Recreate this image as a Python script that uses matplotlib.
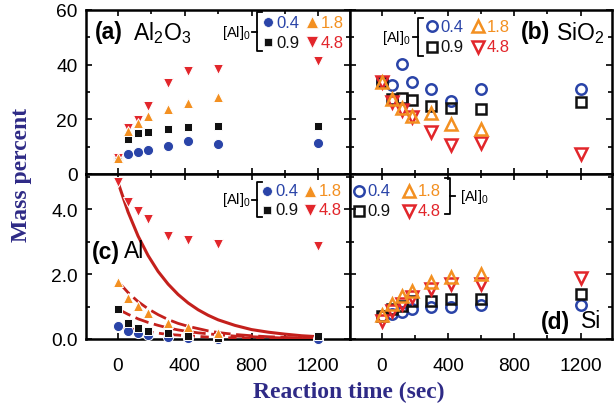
import matplotlib
matplotlib.use("Agg")
import matplotlib.pyplot as plt
from matplotlib.ticker import MultipleLocator, FixedLocator, FixedFormatter

plt.rcParams["font.family"] = ["Liberation Sans", "DejaVu Sans"]
plt.rcParams["mathtext.fontset"] = "custom"
plt.rcParams["mathtext.rm"] = "Liberation Sans"

# --- data (mass percent vs reaction time, sec) ---
times = [0, 60, 120, 180, 300, 420, 600, 1200]
times_18 = [0, 60, 120, 180, 300, 420, 600]   # [Al]0 = 1.8 stops at 600 s

al2o3_04 = [6.0, 7.3, 8.0, 8.7, 10.4, 12.2, 10.9, 11.2]
al2o3_09 = [6.0, 12.8, 14.9, 15.3, 16.4, 17.3, 17.6, 17.7]
al2o3_18 = [5.8, 15.9, 18.5, 21.2, 23.6, 26.1, 28.3]
al2o3_48 = [5.8, 16.9, 19.8, 25.0, 33.3, 37.6, 38.5, 41.3]

sio2_04 = [33.7, 32.7, 40.1, 33.7, 31.0, 26.7, 31.0, 31.0]
sio2_09 = [33.7, 27.6, 27.9, 27.0, 25.0, 24.2, 23.8, 26.2]
sio2_18 = [33.7, 27.4, 24.2, 21.3, 22.2, 18.2, 16.4]
sio2_48 = [33.7, 26.4, 23.4, 21.0, 15.5, 10.7, 11.3, 7.3]

al_04 = [0.41, 0.26, 0.19, 0.12, 0.05, 0.02, 0.0, 0.0]
al_09 = [0.92, 0.48, 0.34, 0.26, 0.20, 0.10, 0.02, 0.08]
al_18 = [1.77, 1.25, 1.03, 0.80, 0.49, 0.36, 0.18]
al_48 = [4.82, 4.23, 3.95, 3.69, 3.18, 3.05, 2.92, 2.87]

si_04 = [0.70, 0.77, 0.82, 0.92, 0.97, 1.00, 1.05, 1.05]
si_09 = [0.72, 0.92, 1.03, 1.18, 1.18, 1.23, 1.23, 1.38]
si_18 = [0.74, 1.08, 1.31, 1.49, 1.74, 1.90, 2.00]
si_48 = [0.56, 0.87, 1.08, 1.28, 1.54, 1.69, 1.69, 1.87]

# fitted decay curves for panel (c)
fit_t = [0, 60, 120, 180, 240, 300, 360, 420, 480, 540, 600, 700, 800, 900, 1000, 1100, 1200]
fit_48 = [4.82, 3.91, 3.17, 2.57, 2.08, 1.69, 1.37, 1.11, 0.90, 0.73, 0.59, 0.42, 0.29, 0.21, 0.15, 0.10, 0.07]
fit_18 = [1.77, 1.43, 1.15, 0.93, 0.75, 0.60, 0.48, 0.39, 0.32, 0.25, 0.20, 0.14, 0.10, 0.07, 0.05, 0.03, 0.02]
fit_09 = [0.92, 0.76, 0.62, 0.51, 0.42, 0.34, 0.28, 0.23, 0.19, 0.16, 0.13, 0.09, 0.07, 0.05, 0.03, 0.02, 0.02]
fit_04 = [0.41, 0.33, 0.27, 0.22, 0.18, 0.14, 0.12, 0.09, 0.08, 0.06, 0.05, 0.03, 0.02, 0.02, 0.01, 0.01, 0.00]

BLUE = "#2a44a8"
ORANGE = "#f39021"
RED = "#e2262b"
BLACK = "#111111"
FIT = "#c4201c"
LABEL = "#2e2a86"

W, H = 615, 406
fig = plt.figure(figsize=(W / 100, H / 100), dpi=100)


def fx(px):
    return px / W


def fy(py):
    return 1 - py / H


def add_panel(l, t, r, b):
    return fig.add_axes([fx(l), fy(b), (r - l) / W, (b - t) / H])


ax_a = add_panel(86, 11, 350, 175)
ax_b = add_panel(350, 11, 612, 175)
ax_c = add_panel(86, 175, 350, 340)
ax_d = add_panel(350, 175, 612, 340)

for ax in (ax_a, ax_b, ax_c, ax_d):
    ax.set_xlim(-192, 1390)
    ax.xaxis.set_major_locator(FixedLocator([0, 400, 800, 1200]))
    ax.xaxis.set_minor_locator(MultipleLocator(200))
    ax.tick_params(which="both", direction="in", top=True, right=True,
                   width=1.2, labelsize=13.8)
    ax.tick_params(which="major", length=4.5)
    ax.tick_params(which="minor", length=3)
    ax.tick_params(axis="x", pad=13)
    ax.tick_params(axis="y", pad=6)
    for s in ax.spines.values():
        s.set_linewidth(1.8)

for ax in (ax_a, ax_b):
    ax.set_ylim(0, 60)
    ax.yaxis.set_major_locator(MultipleLocator(20))
    ax.yaxis.set_minor_locator(MultipleLocator(10))
    ax.tick_params(axis="x", labelbottom=False)
for ax in (ax_c, ax_d):
    ax.set_ylim(0, 5.08)
    ax.yaxis.set_major_locator(FixedLocator([0, 2, 4]))
    ax.yaxis.set_minor_locator(FixedLocator([1, 3, 5]))
ax_c.yaxis.set_major_formatter(FixedFormatter(["0.0", "2.0", "4.0"]))
ax_b.tick_params(axis="y", labelleft=False)
ax_d.tick_params(axis="y", labelleft=False)

# filled markers (a, c)
def filled(ax, y04, y09, y18, y48):
    kw = dict(linestyle="", markeredgecolor="white", markeredgewidth=0.7, clip_on=False, zorder=4)
    ax.plot(times, y04, "o", color=BLUE, ms=7.3, **kw)
    ax.plot(times, y09, "s", color=BLACK, ms=6.4, **kw)
    ax.plot(times, y48, "v", color=RED, ms=7.8, **kw)
    ax.plot(times_18, y18, "^", color=ORANGE, ms=7.8, **kw)


def hollow(ax, y04, y09, y18, y48):
    kw = dict(linestyle="", markerfacecolor="none", markeredgewidth=1.8, clip_on=False, zorder=4)
    ax.plot(times, y04, "o", markeredgecolor=BLUE, ms=7.5, **kw)
    ax.plot(times, y09, "s", markeredgecolor=BLACK, ms=6.5, **kw)
    ax.plot(times, y48, "v", markeredgecolor=RED, ms=8, **kw)
    ax.plot(times_18, y18, "^", markeredgecolor=ORANGE, ms=8, **kw)


ax_c.plot(fit_t, fit_48, color=FIT, lw=2.2, zorder=3)
ax_c.plot(fit_t, fit_18, color=FIT, lw=2.0, ls=(0, (6, 2)), zorder=3)
ax_c.plot(fit_t, fit_09, color=FIT, lw=2.0, ls=(0, (5, 2)), zorder=3)
ax_c.plot(fit_t, fit_04, color=FIT, lw=2.0, ls=(0, (3, 2)), zorder=3)

filled(ax_a, al2o3_04, al2o3_09, al2o3_18, al2o3_48)
hollow(ax_b, sio2_04, sio2_09, sio2_18, sio2_48)
filled(ax_c, al_04, al_09, al_18, al_48)
hollow(ax_d, si_04, si_09, si_18, si_48)

# panel titles
def title(xb, xl, y, tag, name):
    fig.text(fx(xb), fy(y), tag, fontsize=16.5, fontweight="bold", va="center", ha="left")
    fig.text(fx(xl), fy(y), name, fontsize=16.5, va="center", ha="left")


title(95, 133, 33, "(a)", r"Al$_2$O$_3$")
title(521, 556, 33, "(b)", r"SiO$_2$")
title(92, 124, 252, "(c)", "Al")
title(541, 581, 322, "(d)", "Si")


# in-panel legends
def marker(x, y, m, c, ms, hollow_m):
    if hollow_m:
        fig.add_artist(plt.Line2D([fx(x)], [fy(y)], marker=m, ms=ms, markerfacecolor="none",
                                  markeredgecolor=c, markeredgewidth=1.8, linestyle=""))
    else:
        fig.add_artist(plt.Line2D([fx(x)], [fy(y)], marker=m, ms=ms, color=c,
                                  markeredgecolor="white", markeredgewidth=0.5, linestyle=""))


def legend(x1, x2, y1, y2, hollow_m):
    marker(x1, y1, "o", BLUE, 7.5 if hollow_m else 7, hollow_m)
    marker(x1, y2, "s", BLACK, 6.5 if hollow_m else 6, hollow_m)
    marker(x2, y1, "^", ORANGE, 8, hollow_m)
    marker(x2, y2, "v", RED, 8, hollow_m)
    for x, y, s, c in ((x1 + 8, y1, "0.4", BLUE), (x1 + 8, y2, "0.9", BLACK),
                       (x2 + 9, y1, "1.8", ORANGE), (x2 + 9, y2, "4.8", RED)):
        fig.text(fx(x), fy(y), s, color=c, fontsize=12, va="center", ha="left")


def bracket(x, ytop, ybot, hook, tick, label_x, label_ha):
    ym = (ytop + ybot) / 2
    xs = [x + hook, x, x, x + hook]
    ys = [ytop, ytop, ybot, ybot]
    fig.add_artist(plt.Line2D([fx(v) for v in xs], [fy(v) for v in ys], color="black", lw=1.3))
    fig.add_artist(plt.Line2D([fx(x), fx(x + tick)], [fy(ym), fy(ym)], color="black", lw=1.3))
    fig.text(fx(label_x), fy(ym), r"[Al]$_0$", fontsize=10.5, va="center", ha=label_ha)


legend(268, 312, 23, 43, False)
bracket(257, 13, 52, 5, -5, 251, "right")
legend(432, 478, 27, 48, True)
bracket(418, 19, 57, 5, -5, 411, "right")
legend(267, 310, 192, 211, False)
bracket(257, 183, 218, 5, -5, 251, "right")
legend(359, 409, 192, 212, True)
bracket(450, 179, 215, -5, 5, 460, "left")

fig.text(fx(22), fy(175), "Mass percent", rotation=90, va="center", ha="center",
         fontsize=17, fontweight="bold", color=LABEL, family="Liberation Serif")
fig.text(fx(349), fy(392), "Reaction time (sec)", va="center", ha="center",
         fontsize=17, fontweight="bold", color=LABEL, family="Liberation Serif")

fig.savefig("out.png", dpi=100)
